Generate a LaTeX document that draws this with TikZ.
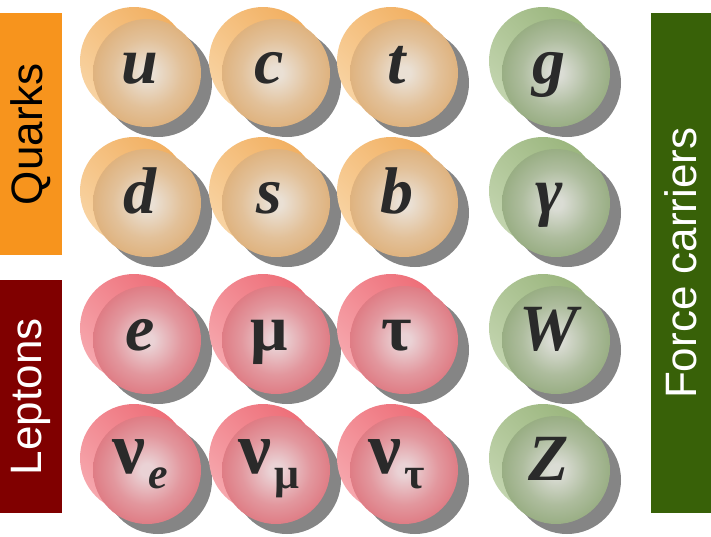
\documentclass[tikz,border=0pt]{standalone}
\usepackage{fontspec}
\setmainfont{Liberation Serif}
\newfontfamily\labelfont{Liberation Sans}

% group colours
\definecolor{quarkbox}{HTML}{F7941D}
\definecolor{leptonbox}{HTML}{800000}
\definecolor{bosonbox}{HTML}{386108}
\definecolor{shadowgray}{HTML}{858585}
\definecolor{glyph}{HTML}{2A2A2A}
% quark balls
\definecolor{qbackA}{HTML}{F8D3A2}
\definecolor{qbackB}{HTML}{F2B062}
\definecolor{qfc}{HTML}{EAE0D4}
\definecolor{qfe}{HTML}{D99B52}
% lepton balls
\definecolor{lbackA}{HTML}{F6A7AD}
\definecolor{lbackB}{HTML}{EE6F79}
\definecolor{lfc}{HTML}{EAD2D5}
\definecolor{lfe}{HTML}{D9505B}
% boson balls
\definecolor{bbackA}{HTML}{C2D4AE}
\definecolor{bbackB}{HTML}{9BB67E}
\definecolor{bfc}{HTML}{DADCD4}
\definecolor{bfe}{HTML}{77965A}
\colorlet{qfm}{qfc!55!qfe}
\colorlet{lfm}{lfc!55!lfe}
\colorlet{bfm}{bfc!55!bfe}

\pgfdeclareradialshading{qfront}{\pgfpoint{0bp}{0bp}}{color(0bp)=(qfc);color(3bp)=(qfc);color(16bp)=(qfm);color(40bp)=(qfe);color(50bp)=(qfe)}
\pgfdeclareradialshading{lfront}{\pgfpoint{0bp}{0bp}}{color(0bp)=(lfc);color(3bp)=(lfc);color(16bp)=(lfm);color(40bp)=(lfe);color(50bp)=(lfe)}
\pgfdeclareradialshading{bfront}{\pgfpoint{0bp}{0bp}}{color(0bp)=(bfc);color(3bp)=(bfc);color(16bp)=(bfm);color(40bp)=(bfe);color(50bp)=(bfe)}

\tikzset{
  ball/.style={circle, inner sep=0pt, minimum size=108pt},
  glyphtext/.style={anchor=base, inner sep=0pt, text=glyph,
    font=\fontsize{66}{70}\selectfont\bfseries},
  groupbox/.style={inner sep=0pt, anchor=north west},
  grouptext/.style={rotate=90, inner sep=0pt,
    font=\labelfont\fontsize{44}{48}\selectfont},
}

% #1 name, #2 x, #3 y, #4 colour prefix, #5 symbol
\newcommand\particle[5]{%
  \node[ball, top color=#4backB, bottom color=#4backA, shading angle=-45]
    (#1-back) at ({#2-13},{#3-12}) {};
  \node[ball, fill=shadowgray] (#1-shadow) at ({#2+11},{#3+10}) {};
  \node[ball, shade, shading=#4front] (#1) at (#2,#3) {};
  \node[glyphtext] (#1-sym) at ({#2-7},{#3+10}) {#5};
}

\newcommand\nusym[1]{\raisebox{7pt}{\fontsize{74}{76}\selectfont\textup{ν}}\kern3pt\raisebox{-8pt}{\fontsize{44}{46}\selectfont #1}}

\begin{document}
\begin{tikzpicture}[x=1pt, y=-1pt]
  \useasboundingbox (0,0) rectangle (711,536);
  \fill[white] (0,0) rectangle (711,536);

  % side labels
  \node[groupbox, fill=quarkbox, minimum width=62pt, minimum height=242pt]
    (quarks) at (0,13) {};
  \node[grouptext, text=black] (quarks-label) at (quarks.center) {Quarks};
  \node[groupbox, fill=leptonbox, minimum width=62pt, minimum height=233pt]
    (leptons) at (0,280) {};
  \node[grouptext, text=white] (leptons-label) at (leptons.center) {Leptons};
  \node[groupbox, fill=bosonbox, minimum width=60pt, minimum height=500pt]
    (bosons) at (651,13) {};
  \node[grouptext, text=white] (bosons-label) at (bosons.center) {Force carriers};

  % quarks
  \particle{u}{147}{73}{q}{\itshape u}
  \particle{c}{276}{73}{q}{\itshape c}
  \particle{t}{404}{73}{q}{\itshape t}
  \particle{d}{147}{203}{q}{\itshape d}
  \particle{s}{276}{203}{q}{\itshape s}
  \particle{b}{404}{203}{q}{\itshape b}

  % leptons
  \particle{e}{147}{340}{l}{\itshape e}
  \particle{mu}{276}{340}{l}{μ}
  \particle{tau}{404}{340}{l}{τ}
  \particle{nue}{147}{470}{l}{\nusym{\itshape e}}
  \particle{numu}{276}{470}{l}{\nusym{μ}}
  \particle{nutau}{404}{470}{l}{\nusym{τ}}

  % force carriers
  \particle{g}{556}{73}{b}{\itshape g}
  \particle{gamma}{556}{203}{b}{\itshape γ}
  \particle{W}{556}{340}{b}{\itshape W}
  \particle{Z}{556}{470}{b}{\itshape Z}
\end{tikzpicture}
\end{document}
